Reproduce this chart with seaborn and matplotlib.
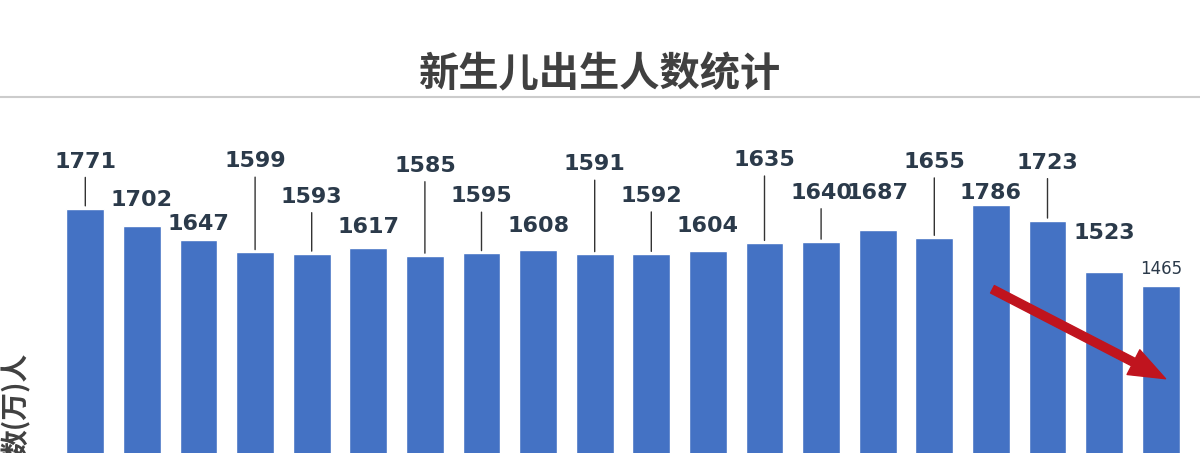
import matplotlib
matplotlib.use("Agg")
import matplotlib.pyplot as plt
import seaborn as sns
import pandas as pd
from matplotlib.patches import FancyArrowPatch

sns.set_theme(style="white")
plt.rcParams['font.family'] = ['Noto Sans CJK SC', 'DejaVu Sans']

title = "新生儿出生人数统计"
ylabel = "数(万)人"
categories = [f"Y{i}" for i in range(1, 21)]
values = [1771, 1702, 1647, 1599, 1593, 1617, 1585, 1595, 1608, 1591,
          1592, 1604, 1635, 1640, 1687, 1655, 1786, 1723, 1523, 1465]
# label offset above bar top, in pixels (layout)
label_offsets_px = [47, 26, 16, 91, 57, 21, 90, 57, 24, 90,
                    58, 25, 83, 49, 37, 76, 12, 58, 39, 17]

df = pd.DataFrame({"cat": categories, "val": values})
W, H = 1200, 453
fig = plt.figure(figsize=(12, 4.53), dpi=100)
ax = fig.add_axes([57 / W, 0, (1189 - 57) / W, (453 - 97) / H])
sns.barplot(data=df, x="cat", y="val", color="#4472C4", saturation=1,
            width=0.67, ax=ax)
ax.set_ylim(810, 2210)
ax.set_xlim(-0.5, 19.5)
ax.axis("off")

pt = 72 / 100
for i, (v, off) in enumerate(zip(values, label_offsets_px)):
    last = i == len(values) - 1
    ax.annotate(str(v), (i, v), xytext=(0, off * pt), textcoords="offset points",
                ha="center", va="center",
                fontsize=12 if last else 16,
                fontweight="normal" if last else "bold",
                color="#2B3A4A", family="DejaVu Sans")
    if off > 40:
        ax.annotate("", (i, v), xytext=(0, (off - 13) * pt), textcoords="offset points",
                    arrowprops=dict(arrowstyle="-", color="#333333", lw=1))

fig.text(0.5, 1 - 75 / H, title, ha="center", va="center", fontsize=29,
         fontweight="bold", color="#404040")
fig.add_artist(plt.Line2D([0, 1], [1 - 97 / H] * 2, color="#CCCCCC", lw=1.5,
                          transform=fig.transFigure))
fig.text(16 / W, 1 - 405 / H, ylabel, rotation=90, ha="center", va="center",
         fontsize=20, fontweight="bold", color="#404040")
arrow = FancyArrowPatch((990 / W, 1 - 288 / H), (1168 / W, 1 - 380 / H),
                        transform=fig.transFigure,
                        arrowstyle="simple,head_width=20,head_length=26,tail_width=6",
                        color="#C0141E", mutation_scale=1)
fig.add_artist(arrow)
fig.savefig("out.png", dpi=100, facecolor="white")
